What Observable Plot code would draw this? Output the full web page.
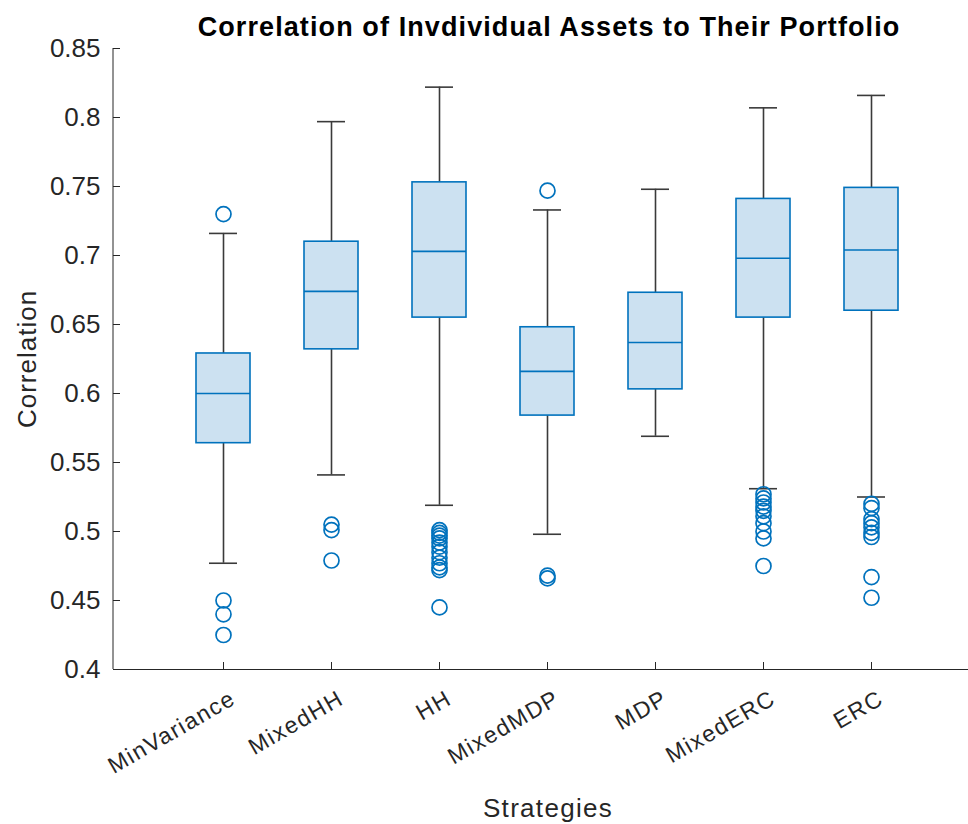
<!DOCTYPE html>
<html>
<head>
<meta charset="utf-8">
<script src="https://cdn.jsdelivr.net/npm/d3@7"></script>
<script src="https://cdn.jsdelivr.net/npm/@observablehq/plot@0.6"></script>
<style>
  body { margin: 0; background: #fff; }
  #chart svg { font-family: "Liberation Sans", Arial, sans-serif; }
</style>
</head>
<body>
<div id="chart"></div>
<script>
const strategies = ["MinVariance","MixedHH","HH","MixedMDP","MDP","MixedERC","ERC"];
const lowerWhisker = [0.477, 0.541, 0.519, 0.498, 0.569, 0.531, 0.525];
const q1 =           [0.564, 0.632, 0.655, 0.584, 0.603, 0.655, 0.660];
const median =       [0.600, 0.674, 0.703, 0.616, 0.637, 0.698, 0.704];
const q3 =           [0.629, 0.710, 0.753, 0.648, 0.673, 0.741, 0.749];
const upperWhisker = [0.716, 0.797, 0.822, 0.733, 0.748, 0.807, 0.816];
const outliersMinVariance = [0.730, 0.450, 0.440, 0.425];
const outliersMixedHH = [0.505, 0.501, 0.479];
const outliersHH = [0.501, 0.499, 0.497, 0.495, 0.492, 0.489, 0.485, 0.481, 0.477, 0.474, 0.472, 0.445];
const outliersMixedMDP = [0.747, 0.468, 0.466];
const outliersMDP = [];
const outliersMixedERC = [0.527, 0.524, 0.521, 0.518, 0.515, 0.511, 0.506, 0.500, 0.495, 0.475];
const outliersERC = [0.520, 0.517, 0.509, 0.506, 0.503, 0.499, 0.496, 0.467, 0.452];
const yTicks = [0.4, 0.45, 0.5, 0.55, 0.6, 0.65, 0.7, 0.75, 0.8, 0.85];

const outlierLists = [outliersMinVariance, outliersMixedHH, outliersHH, outliersMixedMDP, outliersMDP, outliersMixedERC, outliersERC];
const boxes = strategies.map((s, i) => ({
  s, lo: lowerWhisker[i], q1: q1[i], med: median[i], q3: q3[i], hi: upperWhisker[i]
}));
const outliers = strategies.flatMap((s, i) => outlierLists[i].map(v => ({s, v})));

const blue = "#0072BD";
const ink = "#262626";

const chart = Plot.plot({
  width: 968,
  height: 824,
  marginTop: 48,
  marginBottom: 155,
  marginLeft: 113,
  marginRight: 0,
  style: {fontSize: "23px", fontFamily: "Liberation Sans, Arial, sans-serif", color: ink, overflow: "hidden"},
  x: {type: "band", domain: strategies, range: [113, 980], paddingInner: 0.5, paddingOuter: 0.75},
  y: {domain: [0.4, 0.85]},
  marks: [
    // whiskers
    Plot.ruleX(boxes, {x: "s", y1: "q3", y2: "hi", stroke: "#3a3a3a", strokeWidth: 1.6}),
    Plot.ruleX(boxes, {x: "s", y1: "lo", y2: "q1", stroke: "#3a3a3a", strokeWidth: 1.6}),
    Plot.tickY(boxes, {x: "s", y: "hi", stroke: "#3a3a3a", strokeWidth: 1.6, insetLeft: 13, insetRight: 13}),
    Plot.tickY(boxes, {x: "s", y: "lo", stroke: "#3a3a3a", strokeWidth: 1.6, insetLeft: 13, insetRight: 13}),
    // boxes
    Plot.barY(boxes, {x: "s", y1: "q1", y2: "q3", fill: "#cce1f1", stroke: blue, strokeWidth: 1.6}),
    Plot.tickY(boxes, {x: "s", y: "med", stroke: blue, strokeWidth: 1.6}),
    // outliers
    Plot.dot(outliers, {x: "s", y: "v", r: 7.5, stroke: blue, strokeWidth: 1.7, fill: "none"}),
    // axes
    Plot.ruleY([0.4], {stroke: ink, strokeWidth: 1}),
    Plot.ruleY(yTicks, {stroke: ink, strokeWidth: 1, insetRight: 968 - 113 - 7}),
    Plot.ruleX(strategies, {stroke: ink, strokeWidth: 1, insetTop: 621 - 7}),
    Plot.axisY({ticks: yTicks, tickSize: 0, tickPadding: 13, tickFormat: d => String(+d.toFixed(2)),
      label: "Correlation", labelAnchor: "center", labelArrow: "none", labelOffset: 96, fontSize: 26}),
    Plot.axisX({tickSize: 0, tickRotate: -30, tickPadding: 27, dx: 10, label: null, fontSize: 23}),
    Plot.text(["Strategies"], {frameAnchor: "bottom", dx: 7, dy: 147, fontSize: 26, fill: ink}),
    Plot.text(["Correlation of Invdividual Assets to Their Portfolio"], {frameAnchor: "top", dx: 8, dy: -32, fontSize: 27, fontWeight: "bold", fill: "#000"})
  ]
});
// left axis line
const svg = d3.select(chart);
svg.append("line").attr("x1", 113).attr("x2", 113).attr("y1", 48).attr("y2", 669).attr("stroke", ink).attr("stroke-width", 1);
// letter spacing to mimic the reference font's wider tracking
svg.selectAll('[aria-label="x-axis tick label"] text').attr("letter-spacing", "1.5px");
svg.selectAll('[aria-label="y-axis label"] text').attr("letter-spacing", "1px");
svg.selectAll('[aria-label="text"] text').each(function() {
  const t = d3.select(this);
  if (t.text() === "Strategies") t.attr("letter-spacing", "1.3px");
  else t.attr("letter-spacing", "1.1px");
});
document.getElementById("chart").appendChild(chart);
</script>
</body>
</html>
